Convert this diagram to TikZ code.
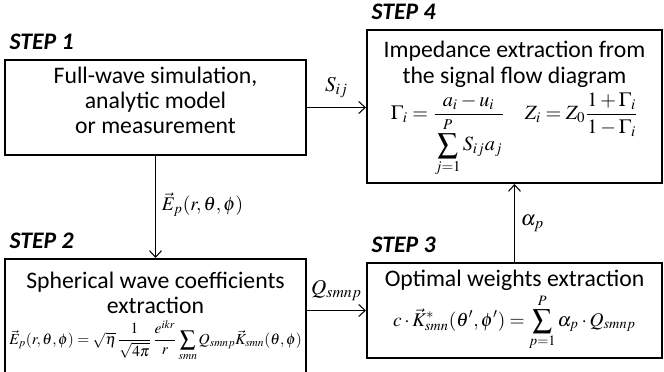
\documentclass[tikz,border=0pt]{standalone}
\usepackage{amsmath}
\usepackage{mathptmx}
\usepackage[no-math]{fontspec}
\setmainfont{Carlito}
\usepackage{tikz}
\usetikzlibrary{positioning, arrows.meta}

\begin{document}
\begin{tikzpicture}[x=0.02cm, y=0.02cm,
                    box/.style={draw=black, line width=1.2pt, align=center, inner sep=2pt, font=\fontsize{13.5}{14.4}\selectfont},
                    steplbl/.style={font=\fontsize{13.5}{14}\selectfont\bfseries\itshape, anchor=south west, inner sep=0pt},
                    flow/.style={-{Straight Barb[length=1.3mm, width=2.4mm]}, line width=0.6pt},
                    lbl/.style={font=\fontsize{12}{14}\selectfont}]
  \useasboundingbox (0,0) rectangle (664,372);
  % the four steps
  \node[box, minimum width=6.02cm, minimum height=1.9cm] (sim) at (155.5,264.5)
    {Full-wave simulation,\\ analytic model\\ or measurement\\[-6pt]\mbox{}};
  \node[box, minimum width=5.9cm, minimum height=3.06cm] (imp) at (514.5,265.5)
    {Impedance extraction from\\ the signal flow diagram\\[2pt]
     {\fontsize{11.5}{13}\selectfont $\Gamma_i=\dfrac{a_i-u_i}{\displaystyle\sum_{j=1}^{P}S_{ij}a_j}\quad Z_i=Z_0\dfrac{1+\Gamma_i}{1-\Gamma_i}$}\\[-4pt]\mbox{}};
  \node[box, minimum width=6.02cm, minimum height=2.3cm] (swe) at (155.5,55.5)
    {Spherical wave coefficients\\ extraction\\[3pt]
     \resizebox{5.85cm}{!}{\fontsize{11}{13}\selectfont $\displaystyle\vec{E}_p(r,\theta,\phi)=\sqrt{\eta}\,\frac{1}{\sqrt{4\pi}}\,\frac{e^{ikr}}{r}\sum_{smn}Q_{smnp}\vec{K}_{smn}(\theta,\phi)$}};
  \node[box, minimum width=5.9cm, minimum height=1.9cm] (opt) at (514.5,61.5)
    {Optimal weights extraction\\[1pt]
     {\fontsize{11}{13}\selectfont $\displaystyle c\cdot\vec{K}^{*}_{smn}(\theta',\phi')=\sum_{p=1}^{P}\alpha_p\cdot Q_{smnp}$}};
  \node[steplbl, above right=5pt and 3pt of sim.north west] (s1) {STEP 1};
  \node[steplbl, above right=5pt and 3pt of swe.north west] (s2) {STEP 2};
  \node[steplbl, above right=5pt and 3pt of opt.north west] (s3) {STEP 3};
  \node[steplbl, above right=5pt and 3pt of imp.north west] (s4) {STEP 4};
  % data passed between steps
  \draw[flow] (sim.east) -- node[lbl, above=2pt] {$S_{ij}$} (imp.west |- sim.east);
  \draw[flow] (sim) -- node[lbl, right, pos=0.48, font=\fontsize{11}{13}\selectfont] {$\vec{E}_p(r,\theta,\phi)$} (swe);
  \draw[flow] (swe.east |- opt.west) -- node[lbl, above=2pt] {$Q_{smnp}$} (opt.west);
  \draw[flow] (opt) -- node[lbl, right] {$\alpha_p$} (imp);
\end{tikzpicture}
\end{document}
